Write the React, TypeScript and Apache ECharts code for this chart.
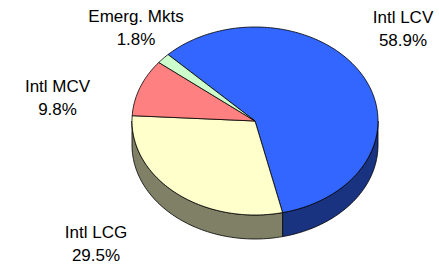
import React, { useEffect, useRef } from "react";
import * as echarts from "echarts";

const categories = ["Intl LCV", "Intl LCG", "Intl MCV", "Emerg. Mkts"];
const values = [58.9, 29.5, 9.8, 1.8];
const topColors = ["#3366FF", "#FFFFCC", "#FF8080", "#CCFFCC"];
const sideColors = ["#1A3380", "#808066", "#804040", "#668066"];
const labelPos = [
  [403, 28.5],
  [96, 243.5],
  [57.5, 97.5],
  [136, 27.5],
];

const CX = 255;
const CY = 121;
const RX = 123;
const RY = 94;
const DEPTH = 24;
const START = 225; // degrees, screen coords, clockwise

function pt(deg: number, dy = 0): number[] {
  const r = (deg * Math.PI) / 180;
  return [CX + RX * Math.cos(r), CY + RY * Math.sin(r) + dy];
}

function arcPts(a: number, b: number, dy = 0): number[][] {
  const pts: number[][] = [];
  const n = Math.max(2, Math.ceil(Math.abs(b - a) / 1.5));
  for (let i = 0; i <= n; i++) pts.push(pt(a + ((b - a) * i) / n, dy));
  return pts;
}

export default function App() {
  const ref = useRef<HTMLDivElement>(null);
  useEffect(() => {
    if (!ref.current) return;
    const chart = echarts.init(ref.current, null, { renderer: "svg" });
    const total = values.reduce((s, v) => s + v, 0);
    const renderItem = (params: any, api: any) => {
      const idx = params.dataIndex;
      let before = 0;
      for (let i = 0; i < idx; i++) before += values[i];
      const v = api.value(1);
      const a = START + (before / total) * 360;
      const b = a + (v / total) * 360;
      const children: any[] = [];
      for (let k = -1; k <= 2; k++) {
        const lo = Math.max(a, k * 360);
        const hi = Math.min(b, k * 360 + 180);
        if (hi > lo) {
          const pts = arcPts(lo, hi, 0).concat(arcPts(hi, lo, DEPTH));
          children.push({
            type: "polygon",
            shape: { points: pts },
            style: { fill: sideColors[idx], stroke: "#000", lineWidth: 0.8 },
          });
        }
      }
      const top = [[CX, CY]].concat(arcPts(a, b, 0));
      children.push({
        type: "polygon",
        shape: { points: top },
        style: { fill: topColors[idx], stroke: "#000", lineWidth: 0.8 },
      });
      return { type: "group", children };
    };
    chart.setOption({
      animation: false,
      series: [
        {
          type: "custom",
          coordinateSystem: "none",
          renderItem,
          data: values.map((v, i) => [i, v]),
        },
      ],
      graphic: categories.map((c, i) => ({
        type: "text",
        x: labelPos[i][0],
        y: labelPos[i][1],
        z: 10,
        style: {
          text: `${c}\n${values[i].toFixed(1)}%`,
          fill: "#000",
          font: "17px 'Liberation Sans', Arial, sans-serif",
          lineHeight: 23,
          align: "center",
          verticalAlign: "middle",
        },
      })),
    });
    return () => chart.dispose();
  }, []);
  return (
    <div
      ref={ref}
      style={{ position: "fixed", left: 0, top: 0, width: 439, height: 266, background: "#fff" }}
    />
  );
}
